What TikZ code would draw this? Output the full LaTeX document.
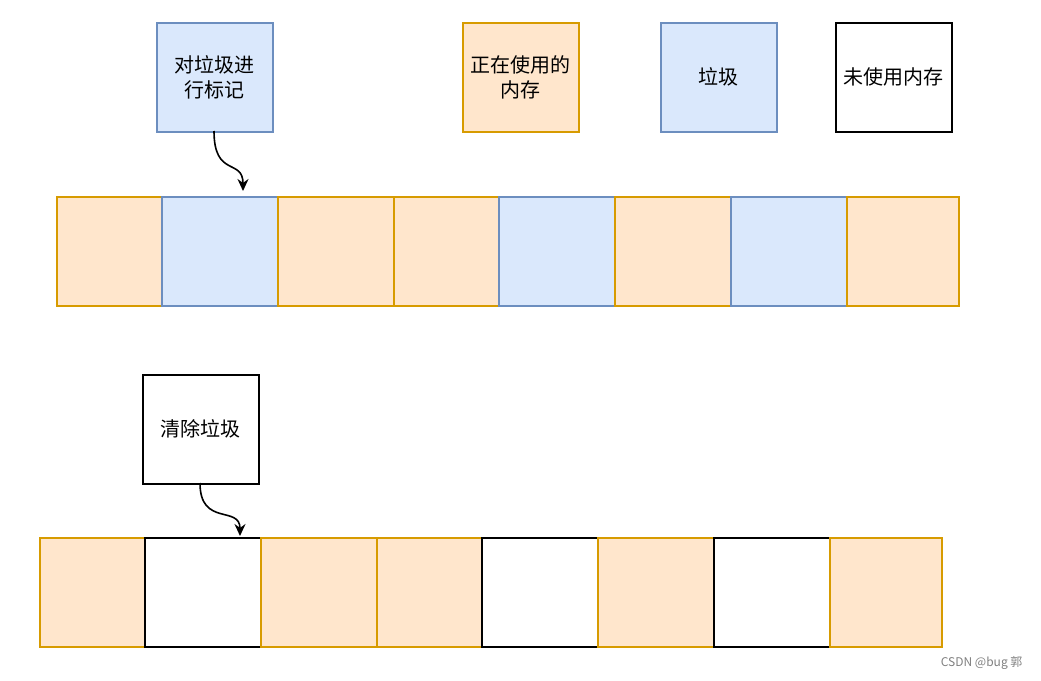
\documentclass[tikz,border=0pt]{standalone}
\usepackage{fontspec}
\setmainfont{Liberation Sans}
\newfontfamily\cjk{Noto Sans CJK SC}
\usetikzlibrary{arrows.meta}
\begin{document}
\begin{tikzpicture}[x=1pt,y=-1pt,
  cell/.style={draw,line width=1.6pt,minimum width=#1,minimum height=109pt,inner sep=0pt,anchor=north west,font=\cjk\fontsize{20}{25}\selectfont,align=center,text width=112pt},
  org/.style={cell=#1,fill={rgb,255:red,255;green,230;blue,204},draw={rgb,255:red,215;green,155;blue,0}},
  blu/.style={cell=#1,fill={rgb,255:red,218;green,232;blue,252},draw={rgb,255:red,108;green,142;blue,191}},
  wht/.style={cell=#1,fill=white,draw=black},
  arr/.style={-{Stealth[length=12pt,width=11pt]},line width=1.6pt}]
\useasboundingbox (0,0) rectangle (1041,680);
\node[blu=116pt] (t1) at (156,22) {对垃圾进\\行标记};
\node[org=116pt] (t2) at (462,22) {正在使用的\\内存};
\node[blu=116pt] (t3) at (660,22) {垃圾};
\node[wht=116pt] (t4) at (835,22) {未使用内存};
\node[org=105pt] (a1) at (56,196) {};
\node[blu=116pt] (a2) at (161,196) {};
\node[org=116pt] (a3) at (277,196) {};
\node[org=105pt] (a4) at (393,196) {};
\node[blu=116pt] (a5) at (498,196) {};
\node[org=116pt] (a6) at (614,196) {};
\node[blu=116pt] (a7) at (730,196) {};
\node[org=105pt] (a8) at (846,196) {};
\node[wht=116pt] (c1) at (142,374) {清除垃圾};
\node[org=105pt] (b1) at (39,537) {};
\node[wht=116pt] (b2) at (144,537) {};
\node[org=116pt] (b3) at (260,537) {};
\node[org=105pt] (b4) at (376,537) {};
\node[wht=116pt] (b5) at (481,537) {};
\node[org=116pt] (b6) at (597,537) {};
\node[wht=116pt] (b7) at (713,537) {};
\node[org=105pt] (b8) at (829,537) {};
\coordinate (e1) at (243,191);
\coordinate (e2) at (240,536);
\draw[arr] (214,131) .. controls (214,178) and (243,158) .. (e1);
\draw[arr] (200,483) .. controls (200,527) and (240,505) .. (e2);
\node[anchor=east,text=gray,font=\cjk\fontsize{12}{14}\selectfont] (wm) at (1026,663) {CSDN @bug 郭};
\end{tikzpicture}
\end{document}
